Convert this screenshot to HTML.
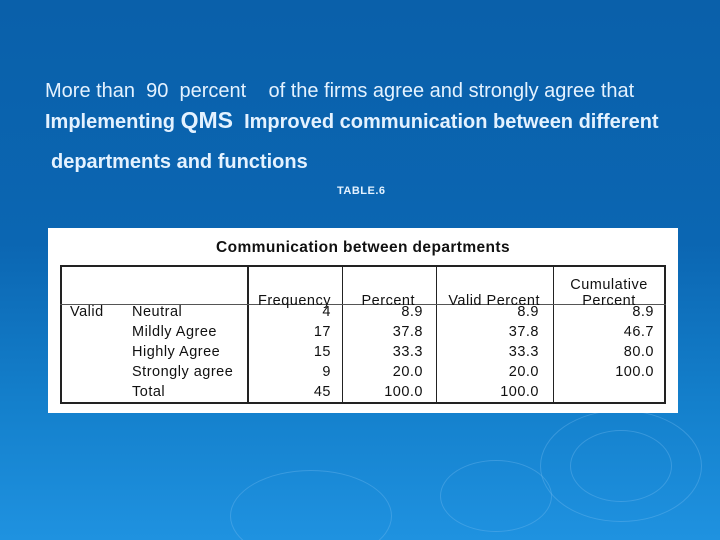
<!DOCTYPE html>
<html><head><meta charset="utf-8"><style>
body{margin:0}
#s{position:relative;width:720px;height:540px;overflow:hidden;background:linear-gradient(180deg,#0a60aa 0%,#0b66b2 45%,#1480cc 75%,#1f92e0 100%);font-family:"Liberation Sans",sans-serif;color:#e4f2ff}
.t{position:absolute;white-space:nowrap}
#tbl{position:absolute;left:48px;top:228px;width:630px;height:185px;background:#fff;color:#111}
.c{position:absolute;font-size:14.5px;letter-spacing:0.5px;white-space:nowrap;line-height:16px}
.r{text-align:right}
.ln{position:absolute;background:#222}
.ring{position:absolute;border:1px solid rgba(120,190,240,.35);border-radius:50%}
</style></head><body>
<div id="s">
<div class="ring" style="left:540px;top:410px;width:160px;height:110px"></div>
<div class="ring" style="left:570px;top:430px;width:100px;height:70px"></div>
<div class="ring" style="left:440px;top:460px;width:110px;height:70px"></div>
<div class="ring" style="left:230px;top:470px;width:160px;height:90px"></div>
<div class="t" style="left:45px;top:80px;font-size:20px">More than &nbsp;90 &nbsp;percent &nbsp;&nbsp;&nbsp;of the firms agree and strongly agree that</div>
<div class="t" style="left:45px;top:107px;font-size:20px;font-weight:bold">Implementing <span style="font-size:23px">QMS</span> &nbsp;Improved communication between different</div>
<div class="t" style="left:51px;top:151px;font-size:20px;font-weight:bold">departments and functions</div>
<div class="t" style="left:337px;top:185px;font-size:11px;font-weight:bold;letter-spacing:.5px">TABLE.6</div>
<div id="tbl">
<div class="c" style="left:0;width:630px;top:12px;text-align:center;font-weight:bold;font-size:15.5px;letter-spacing:0.4px">Communication between departments</div>
<div class="ln" style="left:12px;top:37px;width:606px;height:2px"></div>
<div class="ln" style="left:12px;top:174px;width:606px;height:2px"></div>
<div class="ln" style="left:12px;top:37px;width:2px;height:139px"></div>
<div class="ln" style="left:616px;top:37px;width:2px;height:139px"></div>
<div class="ln" style="left:199px;top:37px;width:2px;height:139px"></div>
<div class="ln" style="left:294px;top:37px;width:1px;height:139px"></div>
<div class="ln" style="left:388px;top:37px;width:1px;height:139px"></div>
<div class="ln" style="left:505px;top:37px;width:1px;height:139px"></div>
<div class="ln" style="left:12px;top:76px;width:606px;height:1px;background:#555"></div>
<div class="c r" style="left:200px;width:83px;top:65px">Frequency</div>
<div class="c r" style="left:295px;width:72px;top:65px">Percent</div>
<div class="c r" style="left:389px;width:103px;top:65px">Valid Percent</div>
<div class="c" style="left:506px;width:110px;top:49px;text-align:center">Cumulative<br>Percent</div>
<div class="c" style="left:22px;top:76px">Valid</div>
<div id="rows"></div>
</div>
</div>
<script>
const cats=["Neutral","Mildly Agree","Highly Agree","Strongly agree","Total"];
const freq=["4","17","15","9","45"];
const pct=["8.9","37.8","33.3","20.0","100.0"];
const vpct=["8.9","37.8","33.3","20.0","100.0"];
const cum=["8.9","46.7","80.0","100.0",""];
const rows=document.getElementById('rows');
function cell(txt,left,w,top,right,name){
  const d=document.createElement('div');
  d.className='c'+(right?' r':'');
  d.style.left=left+'px';d.style.top=top+'px';
  if(w)d.style.width=w+'px';
  d.textContent=txt;
  
  
  rows.appendChild(d);
}
cats.forEach((c,i)=>{
  const y=76+i*20;
  cell(c,84,0,y,false,'row-label');
  cell(freq[i],200,83,y,true,'frequency-cell');
  cell(pct[i],295,80,y,true,'percent-cell');
  cell(vpct[i],389,102,y,true,'valid-percent-cell');
  cell(cum[i],506,100,y,true,'cumulative-cell');
});
</script>
</body></html>
